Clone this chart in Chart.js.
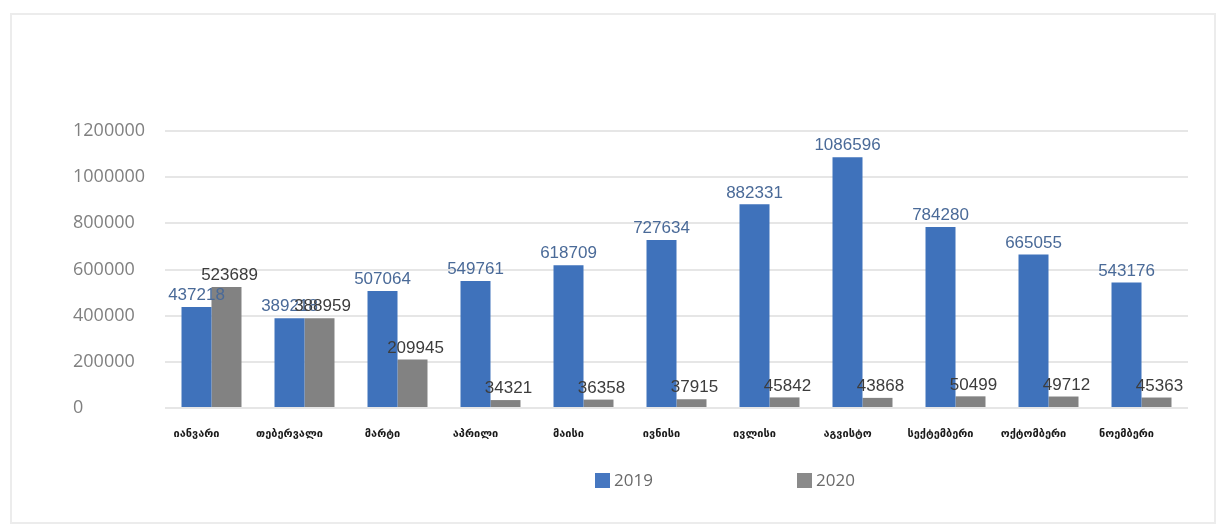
<!DOCTYPE html>
<html><head><meta charset="utf-8">
<script src="https://cdn.jsdelivr.net/npm/chart.js@4.4.0/dist/chart.umd.min.js"></script>
<style>
html,body{margin:0;padding:0;background:#fff;}
#wrap{position:absolute;left:0;top:0;width:1225px;height:527px;}
#frame{position:absolute;left:10px;top:13px;width:1206px;height:511px;border:2px solid #ececec;box-sizing:border-box;}
canvas{position:absolute;left:0;top:0;}
</style></head>
<body>
<div id="wrap"><div id="frame"></div><canvas id="c" width="1225" height="527"></canvas></div>
<script>
const categories = ["იანვარი","თებერვალი","მარტი","აპრილი","მაისი","ივნისი","ივლისი","აგვისტო","სექტემბერი","ოქტომბერი","ნოემბერი"];
const series2019 = [437218,389218,507064,549761,618709,727634,882331,1086596,784280,665055,543176];
const series2020 = [523689,388959,209945,34321,36358,37915,45842,43868,50499,49712,45363];
const seriesNames = ["2019","2020"];
const yTicks = [0,200000,400000,600000,800000,1000000,1200000];
const legendColors = ['#4677c0','#8a8a8a'];

function barGrad(ctx, light, dark){
  const c = ctx.chart.ctx; const el = ctx.element;
  if(!el || !el.width) return dark;
  const x0 = el.x - el.width/2, x1 = el.x + el.width/2;
  const g = c.createLinearGradient(x0,0,x1,0);
  g.addColorStop(0, light); g.addColorStop(0.5, dark); g.addColorStop(1, dark);
  return g;
}

const labelPlugin = {
  id:'vals',
  afterDatasetsDraw(chart){
    const ctx = chart.ctx;
    ctx.save();
    ctx.font = '17px "Liberation Sans", Arial, sans-serif';
    ctx.textAlign = 'center'; ctx.textBaseline = 'bottom';
    chart.data.datasets.forEach((ds,i)=>{
      const meta = chart.getDatasetMeta(i);
      ctx.fillStyle = i===0 ? '#4a6a98' : '#3c3c3c';
      meta.data.forEach((bar,j)=>{
        ctx.fillText(String(ds.data[j]), bar.x + (i===1?3:0), bar.y - 3);
      });
    });
    ctx.restore();
  }
};

const legendPlugin = {
  id:'customLegend',
  afterDraw(chart){
    const ctx = chart.ctx;
    const xs = [595, 797];
    const yc = 481;
    ctx.save();
    ctx.font = '17px "Open Sans", "Liberation Sans", sans-serif';
    ctx.textBaseline = 'middle'; ctx.textAlign = 'left';
    chart.data.datasets.forEach((ds,i)=>{
      ctx.fillStyle = legendColors[i];
      ctx.fillRect(xs[i], yc-8, 15, 15);
      ctx.fillStyle = '#6a6a6a';
      ctx.fillText(ds.label, xs[i]+19, yc);
    });
    ctx.restore();
  }
};

new Chart(document.getElementById('c'), {
  type:'bar',
  data:{
    labels: categories,
    datasets:[
      {label:seriesNames[0], data:series2019, backgroundColor:(c)=>barGrad(c,'#5a8fd6','#3f72bb'), categoryPercentage:0.645, barPercentage:1.0},
      {label:seriesNames[1], data:series2020, backgroundColor:(c)=>barGrad(c,'#9a9a9a','#828282'), categoryPercentage:0.645, barPercentage:1.0}
    ]
  },
  plugins:[labelPlugin, legendPlugin],
  options:{
    responsive:false, animation:false,
    layout:{padding:{left:73, right:37, top:131, bottom:74}},
    plugins:{
      tooltip:{enabled:false},
      legend:{display:false}
    },
    scales:{
      x:{
        grid:{display:false, drawTicks:false},
        border:{display:false},
        ticks:{color:'#1a1a1a', padding:20, labelOffset:-15, maxRotation:0, autoSkip:false, font:{family:'"DejaVu Sans", sans-serif', size:11, weight:'bold'}},
        afterFit(s){ s.height = 45; }
      },
      y:{
        min:0, max:1200000,
        grid:{color:'#e6e6e6', lineWidth:2, drawTicks:false},
        border:{display:false},
        afterBuildTicks(s){ s.ticks = yTicks.map(v=>({value:v})); },
        ticks:{color:'#808080', padding:15, crossAlign:'far', callback:(v)=>String(v), font:{family:'"Open Sans", "Liberation Sans", sans-serif', size:18}},
        afterFit(s){ s.width = 92; }
      }
    }
  }
});
</script>
</body></html>
